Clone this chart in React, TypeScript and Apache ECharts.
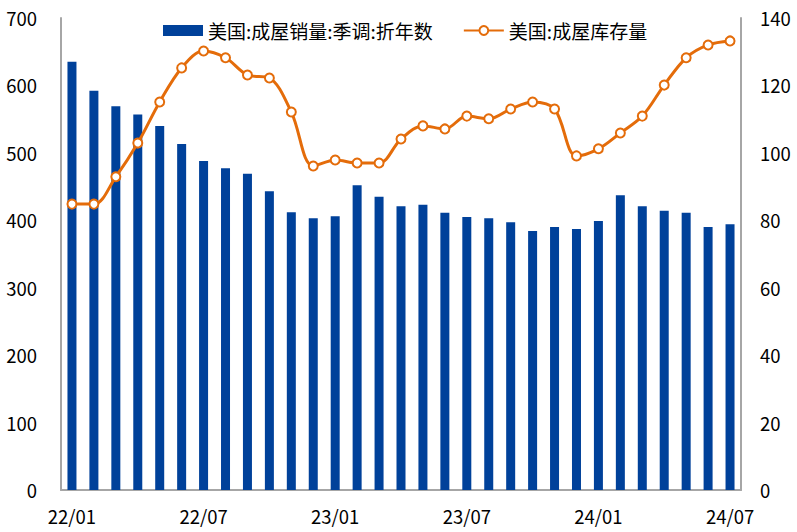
import React, { useEffect, useRef } from "react";
import * as echarts from "echarts";

const categories = [
  "22/01","22/02","22/03","22/04","22/05","22/06","22/07","22/08","22/09","22/10","22/11","22/12",
  "23/01","23/02","23/03","23/04","23/05","23/06","23/07","23/08","23/09","23/10","23/11","23/12",
  "24/01","24/02","24/03","24/04","24/05","24/06","24/07",
];
const salesSeries = [
  635, 592, 569, 557, 540, 513, 488, 477, 469, 443, 412, 403,
  406, 452, 435, 421, 423, 411, 405, 403, 397, 384, 390, 387,
  399, 437, 421, 414, 411, 390, 394,
];
const inventorySeries = [
  84.8, 84.8, 92.9, 102.9, 115.1, 125.2, 130.2, 128.2, 123.1, 122.2, 112.1, 96.1,
  97.9, 97.0, 97.0, 104.1, 108.0, 107.1, 110.9, 110.1, 113.0, 115.1, 113.0, 99.1,
  101.2, 105.9, 110.9, 120.1, 128.2, 132.0, 133.2,
];
const salesName = "美国:成屋销量:季调:折年数";
const inventoryName = "美国:成屋库存量";

const FONT = "'Noto Sans CJK SC', 'Noto Sans', sans-serif";
const LABEL_SIZE = 18.5;

export default function App() {
  const ref = useRef<HTMLDivElement>(null);
  useEffect(() => {
    document.body.style.margin = "0";
    const chart = echarts.init(ref.current!, null, { renderer: "svg" });
    const axisLine = { show: true, lineStyle: { color: "#A6A6A6", width: 2 } };
    chart.setOption({
      animation: false,
      backgroundColor: "#fff",
      textStyle: { fontFamily: FONT },
      grid: { left: 61, right: 56, top: 18, bottom: 42 },
      legend: {
        left: 158,
        top: 16,
        itemWidth: 40,
        itemHeight: 11,
        itemGap: 30,
        textStyle: { fontSize: 19, color: "#000", fontFamily: FONT },
        data: [
          { name: salesName, icon: "rect" },
          { name: inventoryName },
        ],
      },
      xAxis: {
        type: "category",
        data: categories,
        boundaryGap: true,
        axisLine,
        axisTick: { show: false },
        axisLabel: {
          interval: 5,
          margin: 17,
          fontSize: LABEL_SIZE,
          color: "#000",
          fontFamily: FONT,
        },
      },
      yAxis: [
        {
          type: "value",
          min: 0,
          max: 700,
          interval: 100,
          axisLine,
          axisTick: { show: false },
          splitLine: { show: false },
          axisLabel: { margin: 24, fontSize: LABEL_SIZE, color: "#000", fontFamily: FONT },
        },
        {
          type: "value",
          min: 0,
          max: 140,
          interval: 20,
          position: "right",
          axisLine,
          axisTick: { show: false },
          splitLine: { show: false },
          axisLabel: { margin: 19, fontSize: LABEL_SIZE, color: "#000", fontFamily: FONT },
        },
      ],
      series: [
        {
          name: salesName,
          type: "bar",
          data: salesSeries,
          barWidth: 9,
          itemStyle: { color: "#00419A" },
        },
        {
          name: inventoryName,
          type: "line",
          yAxisIndex: 1,
          data: inventorySeries,
          smooth: 0.35,
          symbol: "circle",
          symbolSize: 9,
          lineStyle: { color: "#E46C0A", width: 3 },
          itemStyle: { color: "#fff", borderColor: "#E46C0A", borderWidth: 2 },
        },
      ],
    });
    return () => chart.dispose();
  }, []);
  return <div ref={ref} style={{ width: 797, height: 532 }} />;
}
